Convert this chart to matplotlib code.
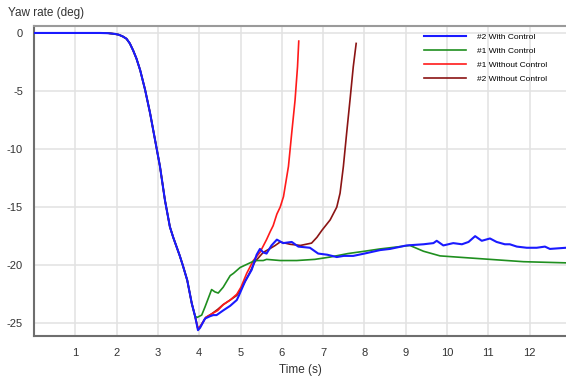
import matplotlib.pyplot as plt
import numpy as np

plt.rcParams['font.family'] = ['Liberation Sans', 'DejaVu Sans']
plt.rcParams['axes.unicode_minus'] = False

# common part (all four runs overlap until the minimum)
t_common = [0.0, 1.6, 1.8, 1.95, 2.05, 2.15, 2.24, 2.32, 2.40, 2.48, 2.57, 2.69, 2.81,
            2.93, 3.05, 3.17, 3.29, 3.37, 3.45, 3.53, 3.61, 3.71, 3.82, 3.90]
y_common = [0.0, 0.0, -0.02, -0.08, -0.15, -0.3, -0.5, -0.9, -1.5, -2.2, -3.2, -4.9,
            -6.9, -9.2, -11.5, -14.4, -16.7, -17.6, -18.4, -19.2, -20.1, -21.3, -23.3,
            -24.4]

# #2 With Control
t_w2 = [3.97, 4.02, 4.14, 4.26, 4.34, 4.42, 4.58, 4.75, 4.91, 4.95, 5.11, 5.27, 5.39,
        5.47, 5.55, 5.63, 5.75, 5.88, 6.03, 6.24, 6.40, 6.68, 6.88, 7.10, 7.33, 7.50,
        7.73, 8.00, 8.38, 8.62, 9.02, 9.43, 9.67, 9.75, 9.91, 10.15, 10.36, 10.52,
        10.68, 10.84, 11.04, 11.20, 11.40, 11.52, 11.69, 11.93, 12.17, 12.37, 12.49,
        12.88]
y_w2 = [-25.6, -25.4, -24.6, -24.4, -24.3, -24.3, -23.9, -23.5, -23.0, -22.7, -21.4,
        -20.4, -19.1, -18.6, -18.9, -19.0, -18.3, -17.8, -18.1, -18.0, -18.4, -18.5,
        -19.0, -19.1, -19.3, -19.2, -19.2, -19.0, -18.7, -18.6, -18.3, -18.2, -18.1,
        -17.9, -18.3, -18.1, -18.2, -18.0, -17.5, -17.9, -17.7, -18.0, -18.2, -18.2,
        -18.4, -18.5, -18.5, -18.4, -18.6, -18.5]

# #1 With Control
t_w1 = [3.95, 4.06, 4.14, 4.30, 4.38, 4.46, 4.58, 4.75, 4.83, 4.99, 5.11, 5.23, 5.35,
        5.55, 5.63, 5.96, 6.36, 6.80, 7.17, 7.60, 8.00, 8.38, 8.62, 9.10, 9.43, 9.83,
        10.23, 11.04, 11.85, 12.88]
y_w1 = [-24.5, -24.3, -23.6, -22.1, -22.3, -22.4, -21.9, -20.9, -20.7, -20.2, -20.0,
        -19.8, -19.6, -19.6, -19.5, -19.6, -19.6, -19.5, -19.3, -19.0, -18.8, -18.6,
        -18.5, -18.3, -18.8, -19.2, -19.3, -19.5, -19.7, -19.8]

# #1 Without Control
t_wo1 = [3.97, 4.04, 4.16, 4.30, 4.45, 4.58, 4.75, 4.91, 5.01, 5.15, 5.31, 5.47, 5.63,
         5.72, 5.79, 5.88, 5.96, 6.04, 6.16, 6.24, 6.32, 6.38, 6.41]
y_wo1 = [-25.5, -25.2, -24.5, -24.2, -23.9, -23.4, -23.0, -22.5, -21.9, -20.7, -19.6,
         -18.9, -17.8, -17.1, -16.6, -15.6, -15.0, -14.1, -11.5, -8.6, -5.8, -2.9, -0.7]

# #2 Without Control
t_wo2 = [3.97, 4.04, 4.16, 4.30, 4.45, 4.58, 4.75, 4.91, 5.05, 5.20, 5.35, 5.45, 5.55,
         5.70, 5.84, 5.96, 6.20, 6.45, 6.72, 6.85, 6.97, 7.17, 7.33, 7.41, 7.49, 7.57,
         7.65, 7.73, 7.80]
y_wo2 = [-25.5, -25.2, -24.5, -24.2, -23.8, -23.4, -23.0, -22.6, -21.8, -20.8, -19.7,
         -19.3, -18.9, -18.6, -18.3, -18.0, -18.2, -18.3, -18.1, -17.6, -17.0, -16.1,
         -15.0, -13.8, -11.5, -8.6, -5.8, -2.9, -0.9]

series = [
    ('#2 With Control', t_w2, y_w2, '#1a1aff', 1.5),
    ('#1 With Control', t_w1, y_w1, '#1f8f1f', 1.2),
    ('#1 Without Control', t_wo1, y_wo1, '#ff1a1a', 1.2),
    ('#2 Without Control', t_wo2, y_wo2, '#8b1414', 1.2),
]
zorders = [5, 4, 3, 2]

fig = plt.figure(figsize=(5.66, 3.81), dpi=100)
ax = fig.add_axes([34 / 566, 45 / 381, 532 / 566, 310 / 381])

handles = []
for (label, t, y, col, lw), z in zip(series, zorders):
    tt = np.concatenate([t_common, t])
    yy = np.concatenate([y_common, y])
    h, = ax.plot(tt, yy, color=col, lw=lw, label=label, zorder=z)
    handles.append(h)

ax.set_xlim(0, 12.88)
ax.set_ylim(-26.1, 0.6)
ax.set_xticks(range(1, 13))
ax.set_yticks([0, -5, -10, -15, -20, -25])
ax.grid(True, color='#e2e2e2', lw=1.1)
ax.set_axisbelow(True)
ax.tick_params(length=0, labelsize=8, colors='#333333')
ax.tick_params(axis='x', pad=9)
ax.tick_params(axis='y', pad=8)
for s in ['left', 'bottom']:
    ax.spines[s].set_color('#6e6e6e')
    ax.spines[s].set_linewidth(1.5)
ax.spines['top'].set_color('#9a9a9a')
ax.spines['top'].set_linewidth(1.5)
ax.spines['right'].set_visible(False)

fig.text(8 / 566, 1 - 13 / 381, 'Yaw rate (deg)', fontsize=8.5, color='#333333', va='center')
fig.text(300 / 566, 1 - 370 / 381, 'Time (s)', fontsize=8.5, color='#333333', ha='center', va='center')

ax.legend(handles=handles, loc='upper left', bbox_to_anchor=(420 / 566, 1 - 29 / 381),
          bbox_transform=fig.transFigure, frameon=False, fontsize=6,
          handlelength=5.0, handletextpad=1.3, labelspacing=0.75, borderpad=0)

fig.savefig('out.png', dpi=100)
